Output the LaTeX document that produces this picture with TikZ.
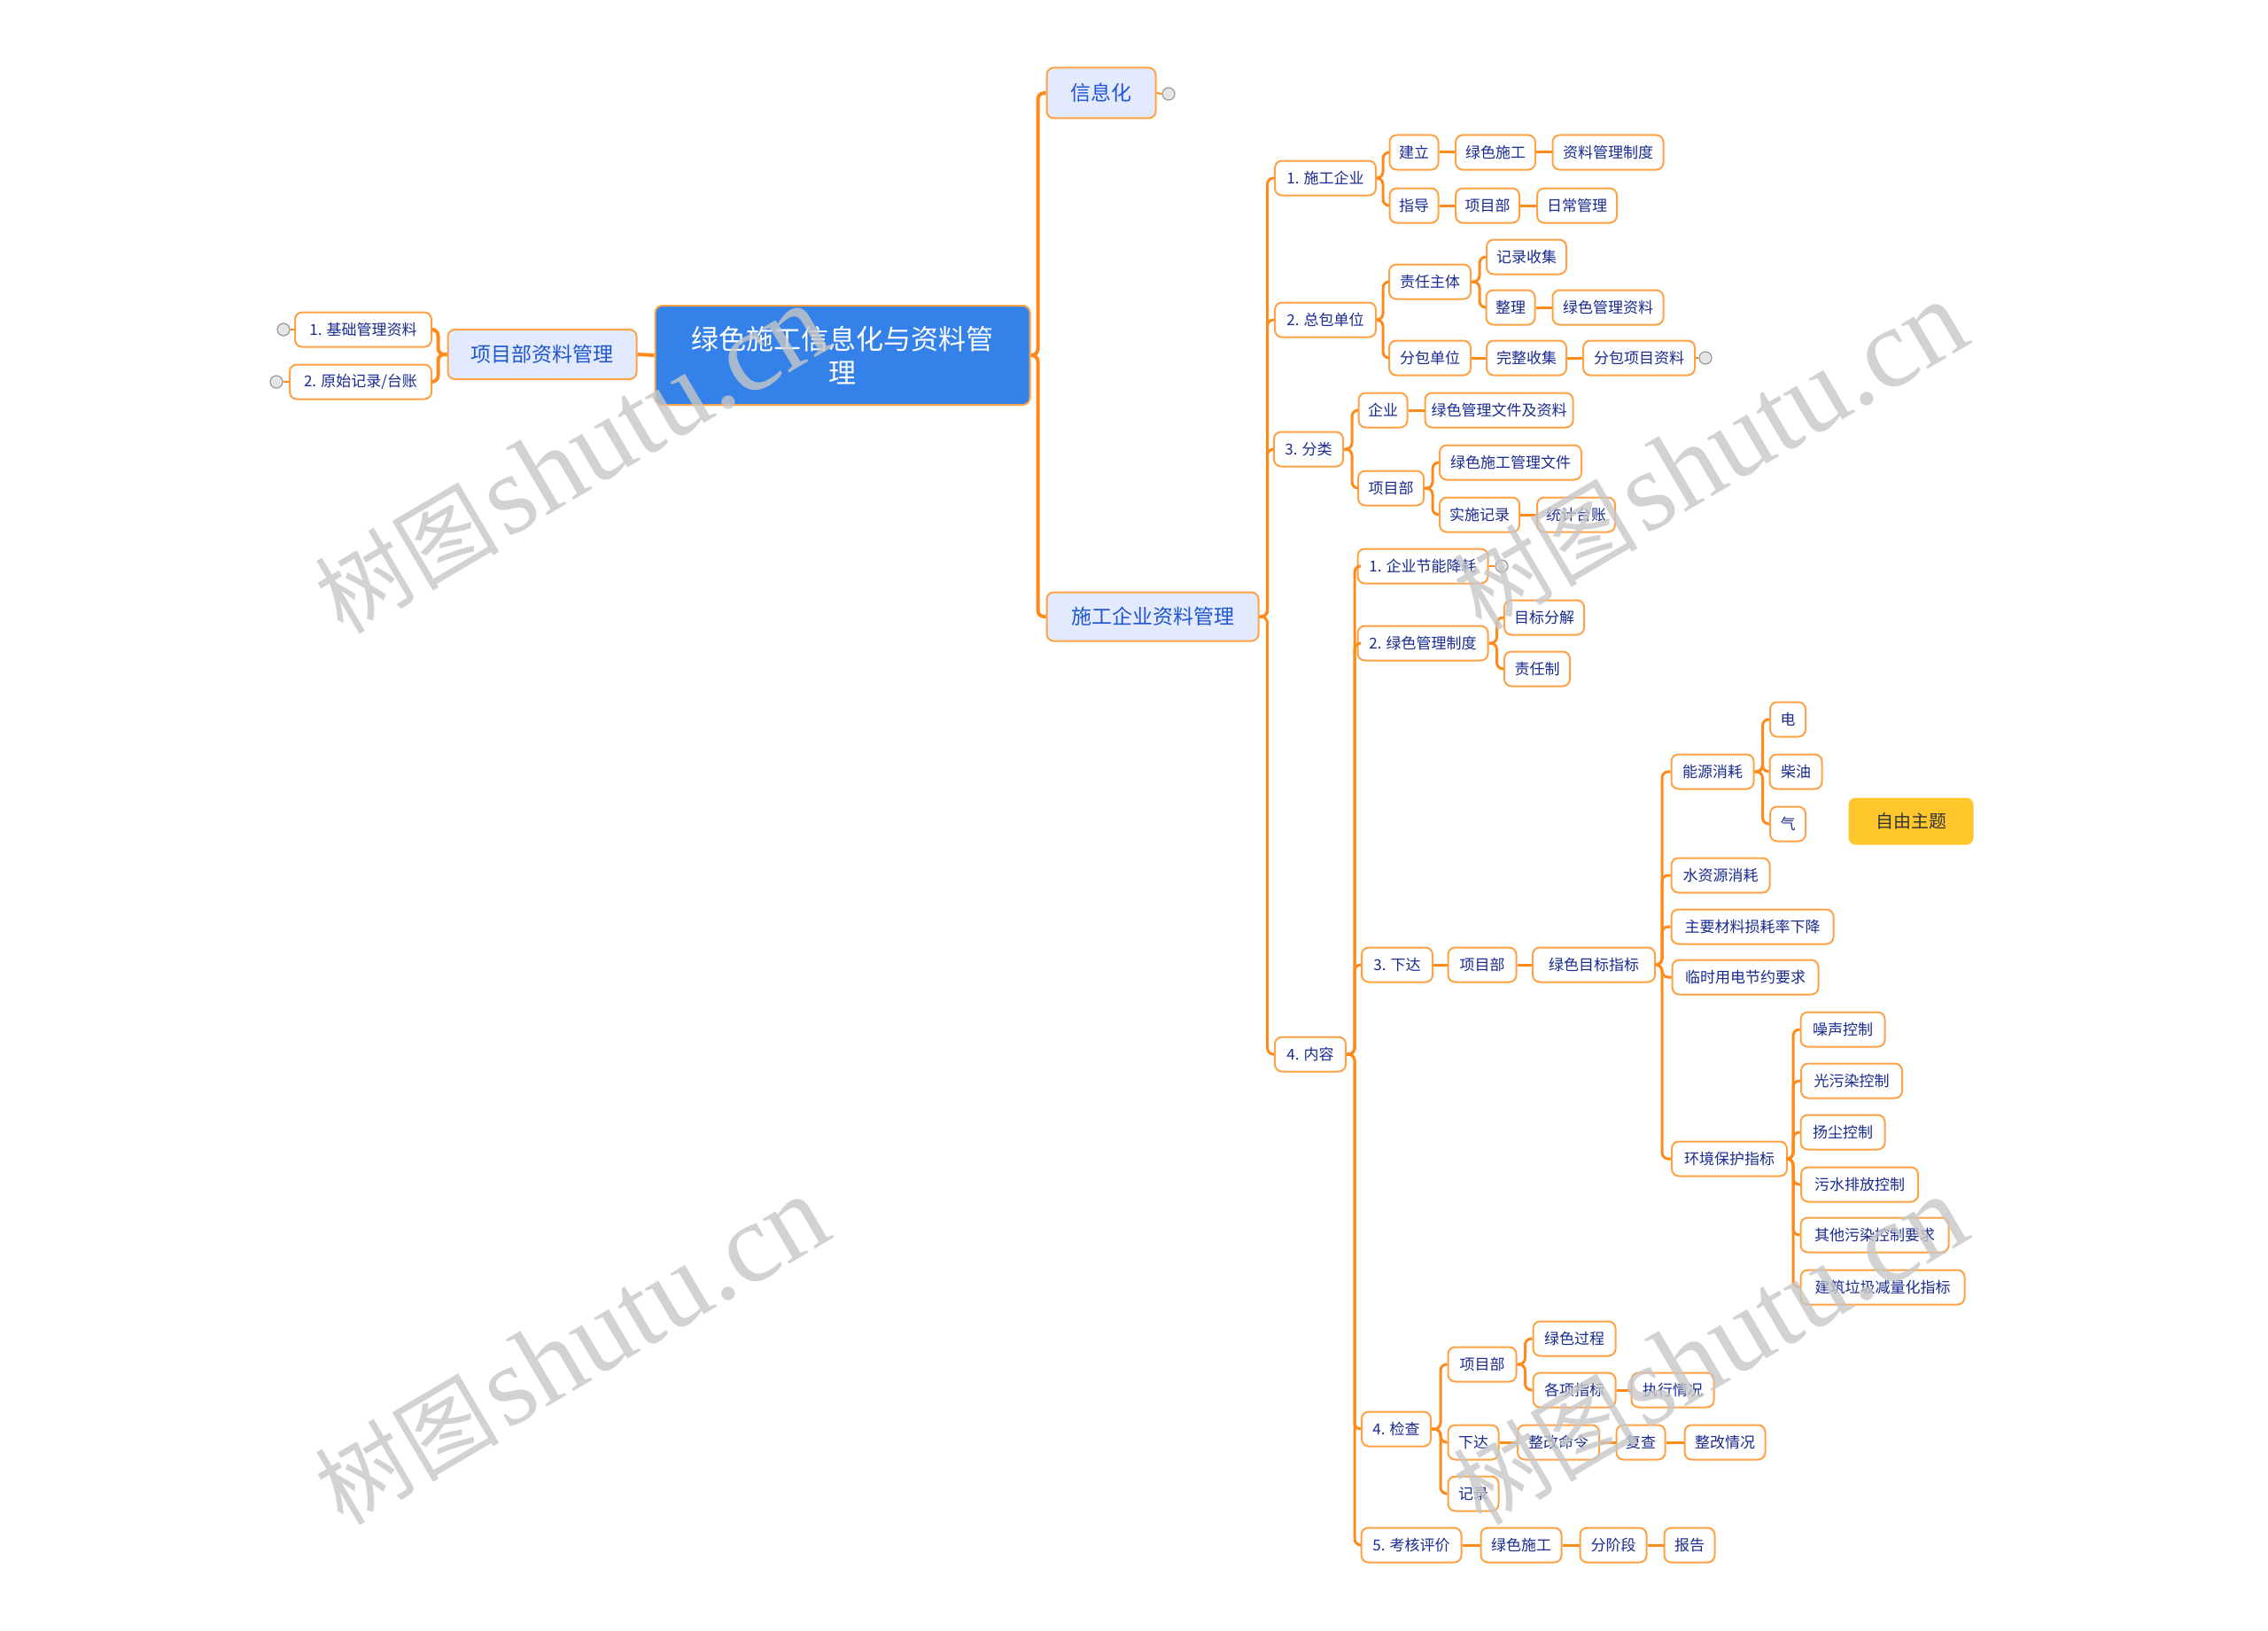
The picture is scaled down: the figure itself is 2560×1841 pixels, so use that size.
\documentclass[tikz,border=0pt]{standalone}
\usepackage{fontspec}
\newfontfamily\cjk{Noto Sans CJK SC}
\newfontfamily\wmserif{Liberation Serif}
\definecolor{ln}{HTML}{FF8A1C}
\definecolor{bd}{HTML}{FFA245}
\definecolor{navy}{HTML}{1A2B8F}
\definecolor{mainfill}{HTML}{E3EAFD}
\definecolor{maintext}{HTML}{1F56D0}
\definecolor{rootfill}{HTML}{3381E9}
\definecolor{yel}{HTML}{FFC72C}
\definecolor{icon}{HTML}{9A9A9A}
\newcommand\N[5]{\node[sn, minimum width={#4*0.5pt}] (#1) at (#2,#3) {#5};}
\newcommand\br[3]{\draw[conn] (#1.east) -- ++(#3,0) |- (#2.west);}
\newcommand\st[2]{\draw[conn] (#1.east) -- (#2.west);}
\newcommand\wmtext{{\cjk\fontsize{52}{54}\selectfont 树图} {\wmserif\fontsize{64}{66}\selectfont shutu.cn}}
\begin{document}
\begin{tikzpicture}[x=0.5pt,y=-0.5pt,
  sn/.style={draw=bd, line width=1pt, fill=white, rounded corners=4pt, inner sep=0pt,
    minimum height=19.5pt, text=navy, font=\cjk\fontsize{8.5}{10}\selectfont},
  mn/.style={sn, fill=mainfill, text=maintext, font=\cjk\fontsize{11.5}{13}\selectfont},
  conn/.style={draw=ln, line width=1.5pt, rounded corners=3.5pt},
  mconn/.style={conn, line width=2pt},
  ic/.style={circle, draw=icon, fill=icon!25, line width=0.6pt, minimum size=7pt, inner sep=0pt},
  wm/.style={rotate=30.5, text=black!22, opacity=0.8, inner sep=0pt}
]
\path[use as bounding box, fill=white] (0,0) rectangle (2560,1841);

% ---------- central and main nodes
\node[sn, fill=rootfill, text=white, align=center, minimum width=211.5pt, minimum height=56pt,
  font=\cjk\fontsize{15.5}{19}\selectfont] (root) at (951,401) {绿色施工信息化与资料管\\理};
\node[mn, minimum width=106.5pt, minimum height=28pt] (xm) at (612,400) {项目部资料管理};
\node[mn, minimum width=61.5pt, minimum height=28.5pt] (xi) at (1243,105) {信息化};
\node[mn, minimum width=119.5pt, minimum height=27.5pt] (sg) at (1301,696) {施工企业资料管理};

\N{b1}{410}{372}{154}{1. 基础管理资料}
\N{b2}{407}{431}{160}{2. 原始记录/台账}

% ---------- level 1 under 施工企业资料管理
\N{c1}{1496}{201}{114}{1. 施工企业}
\N{c2}{1496}{361}{114}{2. 总包单位}
\N{c3}{1477}{507}{78}{3. 分类}
\N{c4}{1479}{1190}{80}{4. 内容}

\N{c1a}{1596}{172}{55}{建立}
\N{c1aa}{1688}{172}{90}{绿色施工}
\N{c1aaa}{1815}{172}{125}{资料管理制度}
\N{c1b}{1596}{232}{55}{指导}
\N{c1bb}{1679}{232}{72}{项目部}
\N{c1bbb}{1780}{232}{90}{日常管理}

\N{c2a}{1614}{318}{92}{责任主体}
\N{c2a1}{1723}{290}{90}{记录收集}
\N{c2a2}{1705}{347}{55}{整理}
\N{c2a2a}{1815}{347}{125}{绿色管理资料}
\N{c2b}{1614}{404}{92}{分包单位}
\N{c2bb}{1723}{404}{90}{完整收集}
\N{c2bbb}{1850}{404}{126}{分包项目资料}

\N{c3a}{1561}{463}{55}{企业}
\N{c3aa}{1692}{463}{167}{绿色管理文件及资料}
\N{c3b}{1570}{551}{74}{项目部}
\N{c3b1}{1705}{522}{160}{绿色施工管理文件}
\N{c3b2}{1670}{581}{90}{实施记录}
\N{c3b2a}{1779}{581}{88}{统计台账}

% ---------- 4. 内容
\N{d1}{1606}{639}{147}{1. 企业节能降耗}
\N{d2}{1606}{726}{147}{2. 绿色管理制度}
\N{d2a}{1743}{697}{90}{目标分解}
\N{d2b}{1735}{755}{74}{责任制}
\N{d3}{1577}{1089}{80}{3. 下达}
\N{d3a}{1673}{1089}{77}{项目部}
\N{d3b}{1799}{1089}{138}{绿色目标指标}

\N{e1}{1933}{871}{93}{能源消耗}
\N{e1a}{2018}{812}{40}{电}
\N{e1b}{2027}{871}{59}{柴油}
\N{e1c}{2018}{930}{40}{气}
\N{e2}{1942}{988}{111}{水资源消耗}
\N{e3}{1978}{1046}{183}{主要材料损耗率下降}
\N{e4}{1970}{1103}{165}{临时用电节约要求}
\N{e5}{1952}{1308}{130}{环境保护指标}

\N{f1}{2080}{1162}{95}{噪声控制}
\N{f2}{2090}{1220}{114}{光污染控制}
\N{f3}{2080}{1278}{95}{扬尘控制}
\N{f4}{2099}{1337}{132}{污水排放控制}
\N{f5}{2116}{1394}{167}{其他污染控制要求}
\N{f6}{2125}{1453}{185}{建筑垃圾减量化指标}

\node[sn, draw=none, fill=yel, text=black!80, minimum width=70.5pt, minimum height=26.5pt,
  font=\cjk\fontsize{10}{12}\selectfont] (free) at (2157,927) {自由主题};

\N{g}{1576}{1613}{78}{4. 检查}
\N{g1}{1673}{1540}{77}{项目部}
\N{g1a}{1777}{1511}{93}{绿色过程}
\N{g1b}{1777}{1569}{93}{各项指标}
\N{g1bb}{1888}{1569}{93}{执行情况}
\N{g2}{1663}{1628}{57}{下达}
\N{g2a}{1759}{1628}{92}{整改命令}
\N{g2b}{1852}{1628}{55}{复查}
\N{g2c}{1947}{1628}{91}{整改情况}
\N{g3}{1663}{1686}{57}{记录}

\N{h}{1593}{1744}{113}{5. 考核评价}
\N{h1}{1717}{1744}{91}{绿色施工}
\N{h2}{1821}{1744}{75}{分阶段}
\N{h3}{1907}{1744}{57}{报告}

% ---------- icons
\node[ic] (i1) at (320,372) {};
\node[ic] (i2) at (312,431) {};
\node[ic] (i3) at (1319,106) {};
\node[ic] (i4) at (1925,404) {};
\node[ic] (i5) at (1695,639) {};
\draw[conn, line width=1pt] (b1.west) -- (i1.east);
\draw[conn, line width=1pt] (b2.west) -- (i2.east);
\draw[conn, line width=1pt] (xi.east) -- (i3.west);
\draw[conn, line width=1pt] (c2bbb.east) -- (i4.west);
\draw[conn, line width=1pt] (d1.east) -- (i5.west);

% ---------- connectors
\draw[mconn] (root.west) -- (xm.east);
\draw[mconn] (xm.west) -- ++(-10,0) |- (b1.east);
\draw[mconn] (xm.west) -- ++(-10,0) |- (b2.east);
\draw[mconn] (root.east) -- ++(8,0) |- (xi.west);
\draw[mconn] (root.east) -- ++(8,0) |- (sg.west);

\br{sg}{c1}{9} \br{sg}{c2}{9} \br{sg}{c3}{9} \br{sg}{c4}{9}
\br{c1}{c1a}{7} \br{c1}{c1b}{7}
\st{c1a}{c1aa} \st{c1aa}{c1aaa}
\st{c1b}{c1bb} \st{c1bb}{c1bbb}
\br{c2}{c2a}{7} \br{c2}{c2b}{7}
\br{c2a}{c2a1}{9} \br{c2a}{c2a2}{9}
\st{c2a2}{c2a2a}
\st{c2b}{c2bb} \st{c2bb}{c2bbb}
\br{c3}{c3a}{9} \br{c3}{c3b}{9}
\st{c3a}{c3aa}
\br{c3b}{c3b1}{9} \br{c3b}{c3b2}{9}
\st{c3b2}{c3b2a}

\br{c4}{d1}{9} \br{c4}{d2}{9} \br{c4}{d3}{9} \br{c4}{g}{9} \br{c4}{h}{9}
\br{d2}{d2a}{9} \br{d2}{d2b}{9}
\st{d3}{d3a} \st{d3a}{d3b}
\br{d3b}{e1}{7} \br{d3b}{e2}{7} \br{d3b}{e3}{7} \br{d3b}{e4}{7} \br{d3b}{e5}{7}
\br{e1}{e1a}{9} \br{e1}{e1b}{9} \br{e1}{e1c}{9}
\br{e5}{f1}{6} \br{e5}{f2}{6} \br{e5}{f3}{6} \br{e5}{f4}{6} \br{e5}{f5}{6} \br{e5}{f6}{6}

\br{g}{g1}{10} \br{g}{g2}{10} \br{g}{g3}{10}
\br{g1}{g1a}{9} \br{g1}{g1b}{9}
\st{g1b}{g1bb}
\st{g2}{g2a} \st{g2a}{g2b} \st{g2b}{g2c}
\st{h}{h1} \st{h1}{h2} \st{h2}{h3}

% ---------- watermarks
\node[wm] (wm1) at (645,519) {\wmtext};
\node[wm] (wm2) at (1930,515) {\wmtext};
\node[wm] (wm3) at (645,1525) {\wmtext};
\node[wm] (wm4) at (1930,1525) {\wmtext};
\end{tikzpicture}
\end{document}
